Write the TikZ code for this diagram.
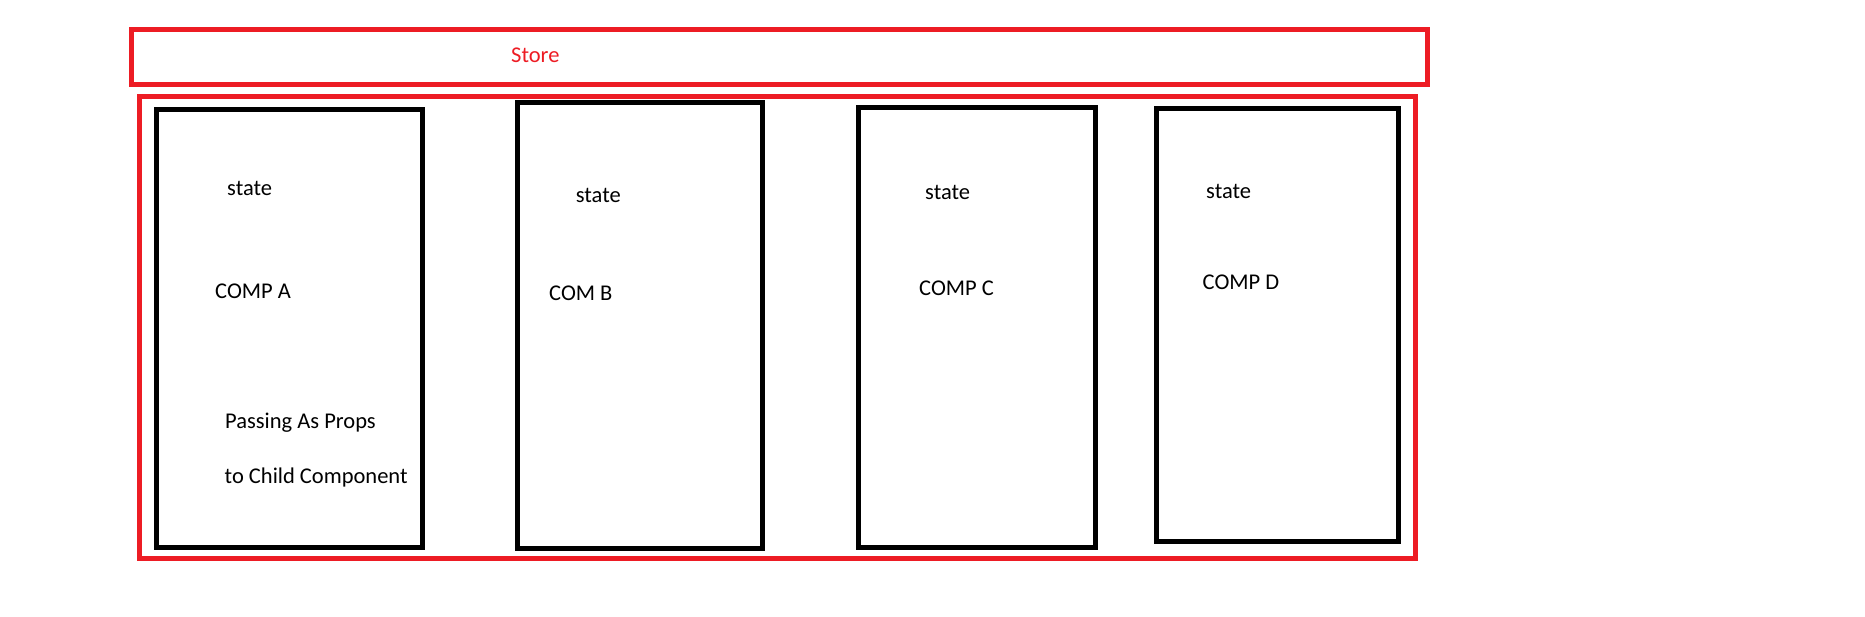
\documentclass[tikz,border=0pt]{standalone}
\usepackage{fontspec}
\setmainfont{Carlito}
\definecolor{paintred}{RGB}{237,28,36}
\begin{document}
\begin{tikzpicture}[x=1pt,y=-1pt,
  redbox/.style={draw=paintred,line width=5pt},
  blackbox/.style={draw=black,line width=5pt},
  lbl/.style={anchor=base west,inner sep=0pt,font=\fontsize{22.5}{27}\selectfont},
  ]
\useasboundingbox (0,0) rectangle (1865,617);
\draw[redbox] (131,29.5) rectangle (1427.5,85);
\draw[redbox] (139.5,96.5) rectangle (1415,558.5);
\draw[blackbox] (156.5,109.5) rectangle (422.5,547.5);
\draw[blackbox] (517,103) rectangle (762.3,548.5);
\draw[blackbox] (858.5,108) rectangle (1095.5,547);
\draw[blackbox] (1156,108.5) rectangle (1398.5,541.7);
\node[lbl,text=paintred] (store) at (511,62.5) {Store};
\node[lbl] (sa) at (227,195.5) {state};
\node[lbl] (ca) at (215,299) {COMP A};
\node[lbl] (pa) at (225,428) {Passing As Props};
\node[lbl] (pb) at (224.5,483) {to Child Component};
\node[lbl] (sb) at (575.7,203) {state};
\node[lbl] (cb) at (549,300.5) {COM B};
\node[lbl] (sc) at (925,199.5) {state};
\node[lbl] (cc) at (919,295.5) {COMP C};
\node[lbl] (sd) at (1206,198.5) {state};
\node[lbl] (cd) at (1202.5,289.5) {COMP D};
\end{tikzpicture}
\end{document}
